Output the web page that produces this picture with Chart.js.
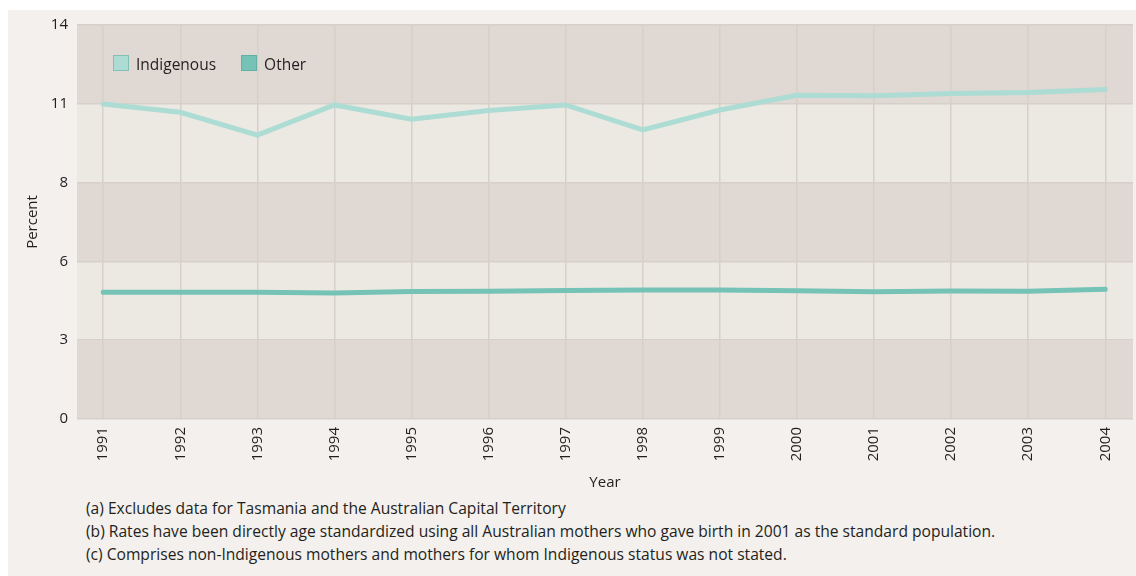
<!DOCTYPE html>
<html>
<head>
<meta charset="utf-8">
<script src="https://cdn.jsdelivr.net/npm/chart.js@4.4.1/dist/chart.umd.min.js"></script>
<style>
  html, body { margin: 0; padding: 0; background: #ffffff; }
  body { width: 1136px; height: 576px; position: relative; overflow: hidden; font-family: "Open Sans", sans-serif; }
  #panel { position: absolute; left: 8px; top: 10px; width: 1128px; height: 566px; background: #f3f0ed; }
  #chart { position: absolute; left: 0; top: 0; }
  #notes { position: absolute; left: 86px; top: 497px; color: #231f20; font-size: 15.6px; line-height: 23px; }
</style>
</head>
<body>
<div id="panel"></div>
<canvas id="chart" width="1136" height="495"></canvas>
<div id="notes">
  <div>(a) Excludes data for Tasmania and the Australian Capital Territory</div>
  <div>(b) Rates have been directly age standardized using all Australian mothers who gave birth in 2001 as the standard population.</div>
  <div>(c) Comprises non-Indigenous mothers and mothers for whom Indigenous status was not stated.</div>
</div>
<script>
// Years on the horizontal axis
const years = [1991, 1992, 1993, 1994, 1995, 1996, 1997, 1998, 1999, 2000, 2001, 2002, 2003, 2004];

// Percent of births, by mother's Indigenous status
const indigenous = [11.19, 10.90, 10.09, 11.16, 10.65, 10.96, 11.16, 10.27, 10.98, 11.50, 11.49, 11.57, 11.60, 11.71];
const other = [4.50, 4.50, 4.50, 4.48, 4.53, 4.54, 4.57, 4.58, 4.58, 4.56, 4.52, 4.55, 4.54, 4.61];

// Y axis: six evenly spaced ticks from 0 to 14, labelled as whole numbers
const yMin = 0;
const yMax = 14;
const yStep = 2.8;

const seriesNames = ['Indigenous', 'Other'];
const seriesColors = ['#acdcd3', '#74c3b6'];

const textColor = '#231f20';
const gridColor = '#d7d0ca';
const bandDark = '#dfd8d3';
const bandLight = '#ece9e3';

// Alternating horizontal bands between the y ticks
const bandsPlugin = {
  id: 'bands',
  beforeDraw(chart) {
    const { ctx, chartArea, scales } = chart;
    const ticks = scales.y.ticks;
    ctx.save();
    for (let i = 0; i < ticks.length - 1; i++) {
      const y0 = scales.y.getPixelForValue(ticks[i].value);
      const y1 = scales.y.getPixelForValue(ticks[i + 1].value);
      ctx.fillStyle = i % 2 === 0 ? bandDark : bandLight;
      ctx.fillRect(chartArea.left, y1, chartArea.right - chartArea.left, y0 - y1);
    }
    ctx.restore();
  }
};

// Legend drawn inside the plot area, top left
const insideLegend = {
  id: 'insideLegend',
  afterDatasetsDraw(chart) {
    const { ctx, chartArea } = chart;
    const box = 16;
    let x = chartArea.left + 36;
    const y = chartArea.top + 30;
    ctx.save();
    ctx.font = '15.5px "Open Sans", sans-serif';
    ctx.textBaseline = 'middle';
    chart.data.datasets.forEach(ds => {
      ctx.fillStyle = ds.borderColor;
      ctx.fillRect(x, y, box, box);
      ctx.strokeStyle = 'rgba(60,140,130,0.35)';
      ctx.lineWidth = 1;
      ctx.strokeRect(x + 0.5, y + 0.5, box - 1, box - 1);
      ctx.fillStyle = textColor;
      ctx.fillText(ds.label, x + box + 7, y + box / 2 + 3);
      x += box + 7 + ctx.measureText(ds.label).width + 25;
    });
    ctx.restore();
  }
};

const toPoints = vals => years.map((yr, i) => ({ x: yr, y: vals[i] }));

new Chart(document.getElementById('chart'), {
  type: 'line',
  data: {
    datasets: [
      { label: seriesNames[0], data: toPoints(indigenous), borderColor: seriesColors[0], backgroundColor: seriesColors[0] },
      { label: seriesNames[1], data: toPoints(other), borderColor: seriesColors[1], backgroundColor: seriesColors[1] }
    ]
  },
  options: {
    responsive: false,
    animation: false,
    events: [],
    layout: { padding: { top: 25, right: 3, bottom: 0, left: 0 } },
    elements: {
      line: { borderWidth: 5, tension: 0, borderCapStyle: 'round', fill: false },
      point: { radius: 0, hoverRadius: 0 }
    },
    plugins: {
      legend: { display: false },
      tooltip: { enabled: false }
    },
    scales: {
      x: {
        type: 'linear',
        min: years[0] - 0.34,
        max: years[years.length - 1] + 0.36,
        afterFit(scale) { scale.height = 76; },
        border: { display: false },
        grid: { color: gridColor, lineWidth: 1.5, drawTicks: false },
        ticks: {
          stepSize: 1,
          includeBounds: false,
          autoSkip: false,
          minRotation: 90,
          maxRotation: 90,
          padding: 8,
          color: textColor,
          font: { family: '"Open Sans", sans-serif', size: 15 },
          callback: v => String(v)
        },
        title: {
          display: true,
          text: 'Year',
          color: textColor,
          font: { family: '"Open Sans", sans-serif', size: 15 },
          padding: { top: 0, bottom: 3 }
        }
      },
      y: {
        min: yMin,
        max: yMax,
        afterFit(scale) { scale.width = 77; },
        border: { display: false },
        grid: { color: gridColor, lineWidth: 1.5, drawTicks: false },
        ticks: {
          stepSize: yStep,
          padding: 9,
          color: textColor,
          font: { family: '"Open Sans", sans-serif', size: 15 },
          callback: v => String(Math.round(v))
        },
        title: {
          display: true,
          text: 'Percent',
          color: textColor,
          font: { family: '"Open Sans", sans-serif', size: 15 },
          padding: { top: 24, bottom: 0 }
        }
      }
    }
  },
  plugins: [bandsPlugin, insideLegend]
});
</script>
</body>
</html>
